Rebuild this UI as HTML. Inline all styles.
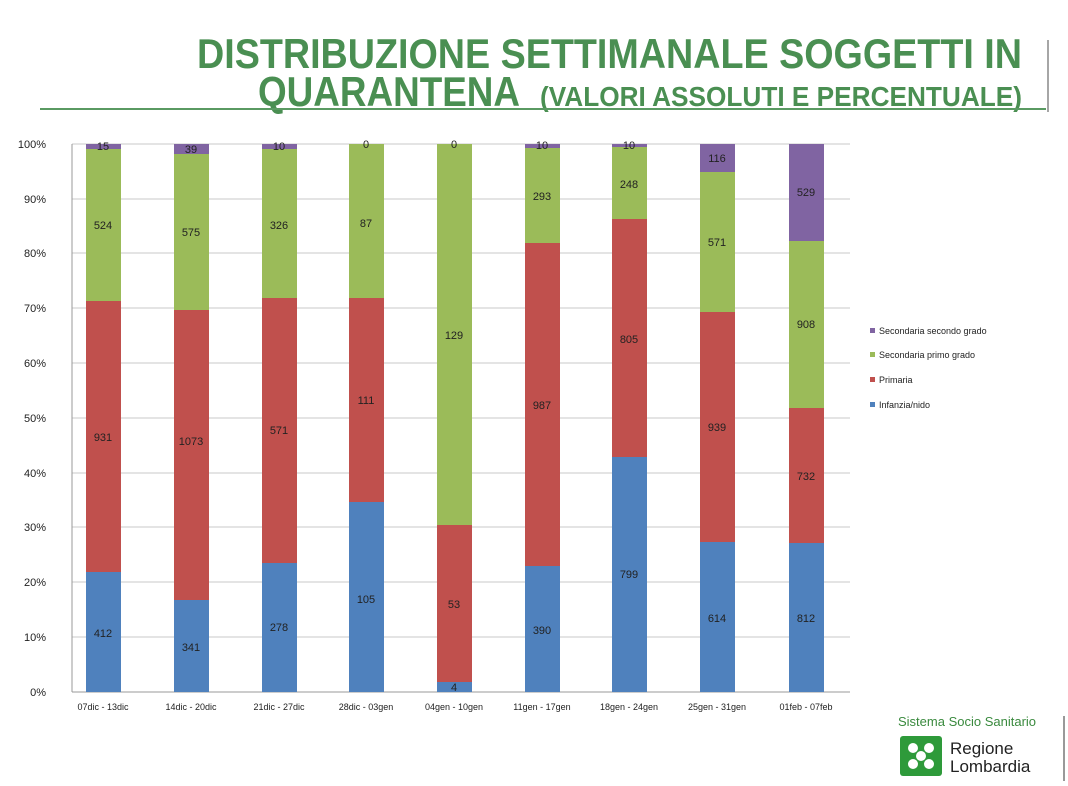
<!DOCTYPE html>
<html><head><meta charset="utf-8"><style>
body{margin:0;background:#fff;width:1068px;height:781px;overflow:hidden;font-family:"Liberation Sans",sans-serif}
</style></head><body>
<svg width="1068" height="781" xmlns="http://www.w3.org/2000/svg" font-family="Liberation Sans, sans-serif">
<g fill="#4a8f52" font-weight="bold">
<text x="1022" y="68" text-anchor="end" font-size="42" textLength="825" lengthAdjust="spacingAndGlyphs">DISTRIBUZIONE SETTIMANALE SOGGETTI IN</text>
<text x="258" y="106" font-size="42" textLength="262" lengthAdjust="spacingAndGlyphs">QUARANTENA</text>
<text x="540" y="106" font-size="28" textLength="482" lengthAdjust="spacingAndGlyphs">(VALORI ASSOLUTI E PERCENTUALE)</text>
</g>
<line x1="40" y1="109" x2="1046" y2="109" stroke="#5a9a62" stroke-width="2"/>
<line x1="1048" y1="40" x2="1048" y2="112" stroke="#888" stroke-width="1.5"/>
<g stroke="#c8c8c8" stroke-width="1">
<line x1="72" y1="144" x2="850" y2="144"/><line x1="72" y1="199" x2="850" y2="199"/><line x1="72" y1="253" x2="850" y2="253"/><line x1="72" y1="308" x2="850" y2="308"/><line x1="72" y1="363" x2="850" y2="363"/><line x1="72" y1="418" x2="850" y2="418"/><line x1="72" y1="473" x2="850" y2="473"/><line x1="72" y1="527" x2="850" y2="527"/><line x1="72" y1="582" x2="850" y2="582"/><line x1="72" y1="637" x2="850" y2="637"/><line x1="72" y1="692" x2="850" y2="692" stroke="#999"/>
<line x1="72" y1="144" x2="72" y2="692" stroke="#999"/>
</g>
<g font-size="11" fill="#222" text-anchor="end">
<text x="46" y="148">100%</text><text x="46" y="203">90%</text><text x="46" y="257">80%</text><text x="46" y="312">70%</text><text x="46" y="367">60%</text><text x="46" y="422">50%</text><text x="46" y="477">40%</text><text x="46" y="531">30%</text><text x="46" y="586">20%</text><text x="46" y="641">10%</text><text x="46" y="696">0%</text>
</g>
<g id="bars">
<rect x="86" y="572" width="35" height="120" fill="#4f81bd"/><rect x="86" y="301" width="35" height="271" fill="#c0504d"/><rect x="86" y="149" width="35" height="152" fill="#9bbb59"/><rect x="86" y="144" width="35" height="5" fill="#8064a2"/>
<rect x="174" y="600" width="35" height="92" fill="#4f81bd"/><rect x="174" y="310" width="35" height="290" fill="#c0504d"/><rect x="174" y="154" width="35" height="156" fill="#9bbb59"/><rect x="174" y="144" width="35" height="10" fill="#8064a2"/>
<rect x="262" y="563" width="35" height="129" fill="#4f81bd"/><rect x="262" y="298" width="35" height="265" fill="#c0504d"/><rect x="262" y="149" width="35" height="149" fill="#9bbb59"/><rect x="262" y="144" width="35" height="5" fill="#8064a2"/>
<rect x="349" y="502" width="35" height="190" fill="#4f81bd"/><rect x="349" y="298" width="35" height="204" fill="#c0504d"/><rect x="349" y="144" width="35" height="154" fill="#9bbb59"/>
<rect x="437" y="682" width="35" height="10" fill="#4f81bd"/><rect x="437" y="525" width="35" height="157" fill="#c0504d"/><rect x="437" y="144" width="35" height="381" fill="#9bbb59"/>
<rect x="525" y="566" width="35" height="126" fill="#4f81bd"/><rect x="525" y="243" width="35" height="323" fill="#c0504d"/><rect x="525" y="148" width="35" height="95" fill="#9bbb59"/><rect x="525" y="144" width="35" height="4" fill="#8064a2"/>
<rect x="612" y="457" width="35" height="235" fill="#4f81bd"/><rect x="612" y="219" width="35" height="238" fill="#c0504d"/><rect x="612" y="147" width="35" height="72" fill="#9bbb59"/><rect x="612" y="144" width="35" height="3" fill="#8064a2"/>
<rect x="700" y="542" width="35" height="150" fill="#4f81bd"/><rect x="700" y="312" width="35" height="230" fill="#c0504d"/><rect x="700" y="172" width="35" height="140" fill="#9bbb59"/><rect x="700" y="144" width="35" height="28" fill="#8064a2"/>
<rect x="789" y="543" width="35" height="149" fill="#4f81bd"/><rect x="789" y="408" width="35" height="135" fill="#c0504d"/><rect x="789" y="241" width="35" height="167" fill="#9bbb59"/><rect x="789" y="144" width="35" height="97" fill="#8064a2"/>
</g>
<g font-size="11" fill="#222" text-anchor="middle">
<text x="103" y="637">412</text><text x="103" y="441">931</text><text x="103" y="229">524</text><text x="103" y="150">15</text>
<text x="191" y="651">341</text><text x="191" y="445">1073</text><text x="191" y="236">575</text><text x="191" y="153">39</text>
<text x="279" y="631">278</text><text x="279" y="434">571</text><text x="279" y="229">326</text><text x="279" y="150">10</text>
<text x="366" y="603">105</text><text x="366" y="404">111</text><text x="366" y="227">87</text><text x="366" y="148">0</text>
<text x="454" y="691">4</text><text x="454" y="608">53</text><text x="454" y="339">129</text><text x="454" y="148">0</text>
<text x="542" y="634">390</text><text x="542" y="409">987</text><text x="542" y="200">293</text><text x="542" y="149">10</text>
<text x="629" y="578">799</text><text x="629" y="343">805</text><text x="629" y="188">248</text><text x="629" y="149">10</text>
<text x="717" y="622">614</text><text x="717" y="431">939</text><text x="717" y="246">571</text><text x="717" y="162">116</text>
<text x="806" y="622">812</text><text x="806" y="480">732</text><text x="806" y="328">908</text><text x="806" y="196">529</text>
</g>
<g font-size="9" fill="#222" text-anchor="middle">
<text x="103" y="710">07dic - 13dic</text><text x="191" y="710">14dic - 20dic</text><text x="279" y="710">21dic - 27dic</text><text x="366" y="710">28dic - 03gen</text><text x="454" y="710">04gen - 10gen</text><text x="542" y="710">11gen - 17gen</text><text x="629" y="710">18gen - 24gen</text><text x="717" y="710">25gen - 31gen</text><text x="806" y="710">01feb - 07feb</text>
</g>
<g font-size="9" fill="#222">
<rect x="870" y="328" width="5" height="5" fill="#8064a2"/><text x="879" y="334">Secondaria secondo grado</text>
<rect x="870" y="352" width="5" height="5" fill="#9bbb59"/><text x="879" y="358">Secondaria primo grado</text>
<rect x="870" y="377" width="5" height="5" fill="#c0504d"/><text x="879" y="383">Primaria</text>
<rect x="870" y="402" width="5" height="5" fill="#4f81bd"/><text x="879" y="408">Infanzia/nido</text>
</g>
<text x="898" y="726" font-size="13" fill="#3a8a3e">Sistema Socio Sanitario</text>
<rect x="900" y="736" width="42" height="40" rx="3" fill="#2e9a3a"/>
<g fill="#fff"><circle cx="913" cy="748" r="5"/><circle cx="929" cy="748" r="5"/><circle cx="913" cy="764" r="5"/><circle cx="929" cy="764" r="5"/><circle cx="921" cy="756" r="5"/></g>
<text x="950" y="754" font-size="17" fill="#222">Regione</text>
<text x="950" y="772" font-size="17" fill="#222">Lombardia</text>
<line x1="1064" y1="716" x2="1064" y2="781" stroke="#777" stroke-width="1.5"/>
</svg>
</body></html>
